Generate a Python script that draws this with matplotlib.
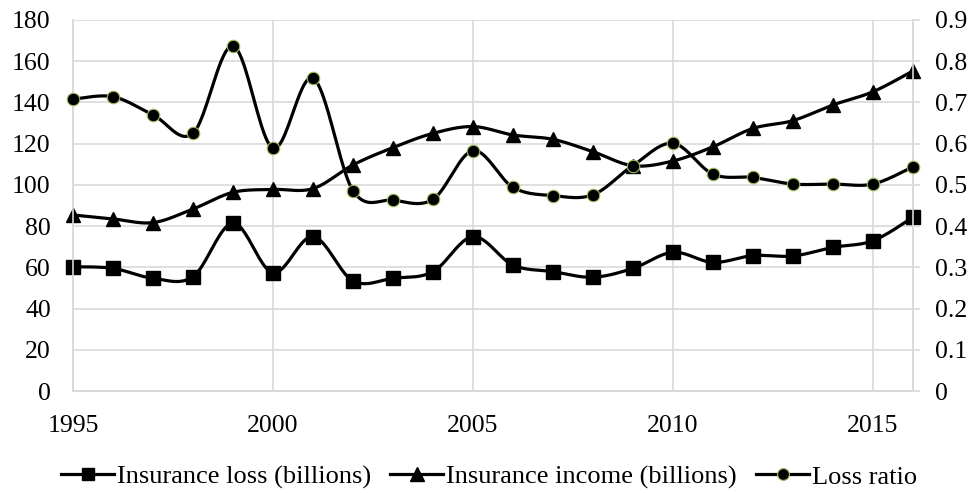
import matplotlib.pyplot as plt
import numpy as np

years = list(range(1995, 2017))
loss = [60.3, 59.5, 54.7, 55.5, 81.4, 57.4, 74.9, 53.4, 54.7, 57.9, 74.9,
        61.1, 57.9, 55.2, 59.5, 67.3, 62.4, 65.7, 65.5, 69.7, 72.9, 84.3]
income = [85.4, 83.5, 81.7, 88.3, 96.4, 97.8, 98.2, 109.7, 118.1, 125.0, 128.3,
          124.2, 122.1, 116.1, 109.3, 111.6, 118.5, 127.4, 131.2, 138.8, 145.2, 155.3]
ratio = [0.708, 0.714, 0.670, 0.625, 0.837, 0.589, 0.759, 0.486, 0.463, 0.465, 0.583,
         0.494, 0.474, 0.476, 0.547, 0.601, 0.526, 0.518, 0.502, 0.502, 0.502, 0.544]
labels = ["Insurance loss (billions)", "Insurance income (billions)", "Loss ratio"]


def smooth(x, y, n=24):
    # Excel-like smoothed line: cubic bezier with catmull-rom control points
    x = np.asarray(x, float)
    y = np.asarray(y, float)
    xs, ys = [x[0]], [y[0]]
    t = np.linspace(0, 1, n)[1:]
    for i in range(len(x) - 1):
        p0 = np.array([x[max(i - 1, 0)], y[max(i - 1, 0)]])
        p1 = np.array([x[i], y[i]])
        p2 = np.array([x[i + 1], y[i + 1]])
        p3 = np.array([x[min(i + 2, len(x) - 1)], y[min(i + 2, len(x) - 1)]])
        c1 = p1 + (p2 - p0) / 6
        c2 = p2 - (p3 - p1) / 6
        b = ((1 - t) ** 3)[:, None] * p1 + (3 * (1 - t) ** 2 * t)[:, None] * c1 \
            + (3 * (1 - t) * t ** 2)[:, None] * c2 + (t ** 3)[:, None] * p2
        xs.extend(b[:, 0])
        ys.extend(b[:, 1])
    return xs, ys


plt.rcParams["font.family"] = ["Liberation Serif", "DejaVu Serif"]
fig = plt.figure(figsize=(9.71, 4.93), dpi=100)
ax = fig.add_axes([73 / 971, 1 - 391 / 493, 840 / 971, 371 / 493])
ax2 = ax.twinx()

grid = "#d9d9d9"
lw = 2.3
green = "#9bbb59"

sx, sy = smooth(years, loss)
ax.plot(sx, sy, color="black", lw=lw, zorder=3, clip_on=False)
ax.plot(years, loss, ls="none", marker="s", ms=9.5, color="black", zorder=4, clip_on=False)
sx, sy = smooth(years, income)
ax.plot(sx, sy, color="black", lw=lw, zorder=3, clip_on=False)
ax.plot(years, income, ls="none", marker="^", ms=10.5, color="black", zorder=4, clip_on=False)
sx, sy = smooth(years, ratio)
ax2.plot(sx, sy, color="black", lw=lw, zorder=3, clip_on=False)
ax2.plot(years, ratio, ls="none", marker="o", ms=9, color="black",
         markeredgecolor=green, markeredgewidth=0.8, zorder=4, clip_on=False)

ax.set_xlim(1995, 2016)
ax.set_ylim(0, 180)
ax2.set_ylim(0, 0.9)
ax.set_xticks(range(1995, 2016, 5))
ax.set_yticks(range(0, 181, 20))
ax2.set_yticks(np.arange(0, 0.91, 0.1))
ax2.set_yticklabels(["0"] + ["%.1f" % v for v in np.arange(0.1, 0.91, 0.1)])
ax.grid(True, color=grid, lw=1.2, zorder=0)
ax.set_axisbelow(True)

for a in (ax, ax2):
    for s in a.spines.values():
        s.set_color(grid)
        s.set_linewidth(1.2)
    a.spines["top"].set_visible(False)
ax.tick_params(axis="both", labelsize=18.5, length=0, colors="black")
ax.tick_params(axis="y", pad=16)
ax.tick_params(axis="x", pad=17)
ax2.tick_params(axis="y", labelsize=18.5, length=5, width=1.2, color=grid,
                labelcolor="black", pad=11)

h = [plt.Line2D([], [], color="black", lw=lw, marker="s", ms=9),
     plt.Line2D([], [], color="black", lw=lw, marker="^", ms=10),
     plt.Line2D([], [], color="black", lw=lw, marker="o", ms=8.5,
                markeredgecolor=green, markeredgewidth=0.8)]
fig.legend(h, labels, loc="center", bbox_to_anchor=(489 / 971, 1 - 477 / 493), ncol=3,
           frameon=False, fontsize=19, handlelength=2.0, handletextpad=0.1,
           columnspacing=0.75, borderpad=0)

fig.savefig("out.png", dpi=100)
